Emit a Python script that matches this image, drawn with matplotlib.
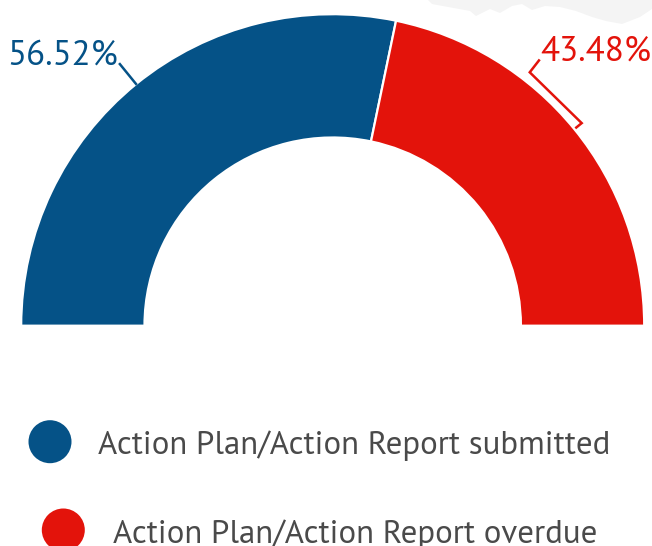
import numpy as np
import matplotlib
matplotlib.use("Agg")
import matplotlib.pyplot as plt

# ---- data ----
categories = ["Action Plan/Action Report submitted", "Action Plan/Action Report overdue"]
values = [56.52, 43.48]
value_labels = ["56.52%", "43.48%"]
colors = ["#055287", "#E3130B"]

W, H = 652, 546
FAM = ["PT Sans", "Roboto Condensed", "DejaVu Sans"]
TEXT_GRAY = "#4a4a4a"

fig = plt.figure(figsize=(W / 100, H / 100), dpi=100)
ax = fig.add_axes([0, 0, 1, 1])
ax.set_xlim(0, W)
ax.set_ylim(0, H)
ax.set_aspect("equal")
ax.axis("off")

def py(y):  # pixel-from-top -> axis y
    return H - y

# faint background watermark shape (top right)
wm_x = [428, 432, 470, 476, 490, 500, 512, 522, 532, 545, 560, 576, 592, 606, 622, 640, 652, 652, 428]
wm_y = [0, 4, 11, 16, 9, 13, 6, 4, 10, 6, 7, 11, 17, 21, 24, 17, 9, 0, 0]
ax.fill(wm_x, [py(v) for v in wm_y], color="#f4f4f4", lw=0, zorder=0)

# ---- semi donut ----
cx, cy = 332.7, py(325.7)
R, r = 311.5, 188.2
total = sum(values)
fracs = [v / total / 2 for v in values]
wedges, _ = ax.pie(fracs, colors=colors, startangle=180, counterclock=False,
                   normalize=False, radius=R, center=(cx, cy),
                   wedgeprops=dict(width=R - r, edgecolor="white", linewidth=1.6))
ax.set_xlim(0, W)
ax.set_ylim(0, H)
ax.set_aspect("equal")

# font size fitted to reference width of legend text
rend = fig.canvas.get_renderer()
t = fig.text(0, 0, categories[0], fontsize=25, family=FAM)
wpx = t.get_window_extent(rend).width
t.remove()
fs = 25 * 512 / wpx
fs_val = fs * 1.065

def polar(rad, ang):
    a = np.deg2rad(ang)
    return cx + rad * np.cos(a), cy + rad * np.sin(a)

# angles
mids = []
start = 180.0
for v in values:
    span = v / total * 180.0
    mids.append(start - span / 2)
    start -= span

# blue label with radial leader
x0, y0 = polar(R - 1, mids[0])
x1, y1 = polar(R + 27, mids[0])
ax.plot([x0, x1], [y0, y1], color=colors[0], lw=1.8, solid_capstyle="butt")
ax.text(x1 - 1, y1 - 1, value_labels[0], color=colors[0], fontsize=fs_val, family=FAM,
        ha="right", va="baseline")

# red label with bracket
m = mids[1]
p0 = polar(336, m + 13)
p1 = polar(321, m + 13)
p2 = polar(321, m)
p3 = polar(314, m)
ax.plot([p0[0], p1[0], p2[0], p3[0]], [p0[1], p1[1], p2[1], p3[1]],
        color=colors[1], lw=1.8, solid_joinstyle="miter")
ax.text(p0[0] + 1, p0[1], value_labels[1], color=colors[1], fontsize=fs_val, family=FAM,
        ha="left", va="baseline")

# ---- legend ----
leg_cx = [50, 63.3]
leg_cy = [441.7, 530.0]
leg_tx = [98, 113]
for i, cat in enumerate(categories):
    ax.scatter([leg_cx[i]], [py(leg_cy[i])], s=(43 * 0.72) ** 2, color=colors[i],
               edgecolors="none", zorder=3, clip_on=False)
    ax.text(leg_tx[i], py(leg_cy[i] + 12.6), cat, color=TEXT_GRAY, fontsize=fs,
            family=FAM, ha="left", va="baseline")

fig.savefig("out.png", dpi=100)
